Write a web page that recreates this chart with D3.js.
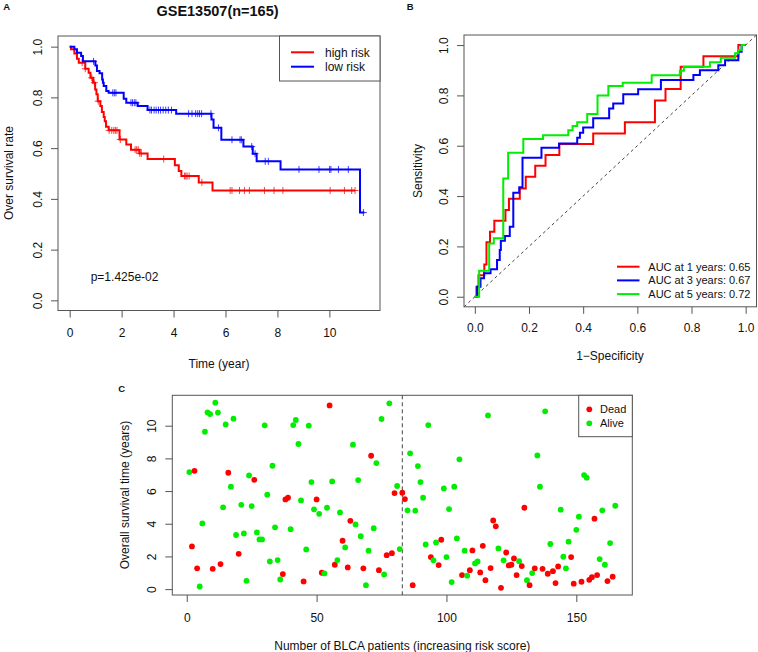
<!DOCTYPE html>
<html><head><meta charset="utf-8">
<script src="https://cdn.jsdelivr.net/npm/d3@7"></script>
<style>body{margin:0;background:#fff}svg{display:block}</style>
</head><body><svg id="c" width="758" height="652"></svg>
<script>
// ---------- Panel A data (Kaplan-Meier) ----------
const kmTitle = "GSE13507(n=165)";
const kmGroups = ["high risk", "low risk"];
const kmPText = "p=1.425e-02";
const kmXTicks = [0, 2, 4, 6, 8, 10];
const unitTicks = [0, 0.2, 0.4, 0.6, 0.8, 1.0];
const highRiskTime = [0.05,0.18,0.28,0.35,0.6,0.73,0.8,0.9,0.98,1.03,1.08,1.18,1.24,1.31,1.35,1.4,1.5,1.92,2.18,2.36,2.69,3.0,4.05,4.2,4.3,4.97,5.5];
const highRiskSurv = [0.99,0.973,0.952,0.937,0.913,0.897,0.877,0.858,0.831,0.812,0.785,0.766,0.742,0.723,0.706,0.684,0.67,0.634,0.614,0.594,0.579,0.557,0.533,0.51,0.49,0.465,0.433];
const highRiskCensor = [0.48,0.6,0.85,0.95,1.1,1.52,1.62,1.7,1.76,1.82,1.95,2.52,2.58,2.64,2.7,2.76,3.62,4.42,4.47,4.52,4.6,5.09,6.18,6.25,6.54,6.73,6.92,7.5,7.87,8.21,10.03,10.58,10.86,10.99];
const highRiskEnd = 10.99;
const lowRiskTime = [0.18,0.28,0.44,0.51,0.99,1.05,1.15,1.25,1.28,1.31,1.41,1.5,2.08,2.18,2.62,3.0,4.1,5.46,5.54,5.84,6.69,7.05,7.2,8.12,11.18];
const lowRiskSurv = [0.99,0.976,0.963,0.942,0.926,0.904,0.895,0.871,0.858,0.845,0.825,0.818,0.795,0.779,0.766,0.75,0.736,0.713,0.68,0.633,0.606,0.578,0.548,0.516,0.346];
const lowRiskCensor = [0.92,1.66,1.72,1.78,2.36,2.42,2.49,2.55,3.09,3.15,3.25,3.33,3.42,3.5,3.6,3.7,3.8,3.92,4.58,4.71,4.85,4.93,5.0,5.08,5.44,5.73,6.25,6.56,6.61,7.01,7.14,7.53,7.65,8.83,9.6,10.01,10.06,10.35,10.73,11.31];
const lowRiskEnd = 11.35;

// ---------- Panel B data (time-dependent ROC) ----------
const rocLabels = ["AUC at 1 years: 0.65", "AUC at 3 years: 0.67", "AUC at 5 years: 0.72"];
const roc1Fpr = [0,0.006,0.0135,0.035,0.043,0.056,0.072,0.113,0.126,0.166,0.188,0.223,0.261,0.312,0.437,0.554,0.665,0.704,0.76,0.844,0.973,1.0];
const roc1Tpr = [0,0.04,0.085,0.128,0.216,0.258,0.302,0.345,0.389,0.43,0.477,0.52,0.563,0.607,0.649,0.693,0.78,0.825,0.914,0.956,1.0,1.0];
const roc3Fpr = [0,0.0086,0.021,0.034,0.058,0.082,0.092,0.096,0.111,0.129,0.142,0.164,0.176,0.246,0.311,0.378,0.388,0.40,0.437,0.496,0.511,0.548,0.603,0.687,0.807,0.831,0.899,0.924,0.973,0.985,1.0];
const roc3Tpr = [0,0.04,0.073,0.093,0.109,0.146,0.186,0.222,0.241,0.278,0.413,0.435,0.552,0.592,0.609,0.632,0.652,0.672,0.709,0.748,0.768,0.805,0.824,0.861,0.881,0.90,0.92,0.94,0.973,1.0,1.0];
const roc5Fpr = [0,0.016,0.053,0.070,0.105,0.123,0.179,0.252,0.345,0.361,0.378,0.415,0.453,0.493,0.546,0.653,0.757,0.772,0.868,0.908,0.961,0.973,0.985,1.0];
const roc5Tpr = [0,0.103,0.212,0.232,0.47,0.572,0.627,0.642,0.662,0.678,0.693,0.726,0.80,0.837,0.85,0.88,0.898,0.914,0.932,0.95,0.967,0.98,1.0,1.0];

// ---------- Panel C data (risk-ordered survival status) ----------
const statusLabels = ["Dead", "Alive"];
const scatterXTicks = [0, 50, 100, 150];
const scatterYTicks = [0, 2, 4, 6, 8, 10];
const cutoffPatient = 83;
const patientDead = [
 0,1,1,1,0,0,0,0,0,1,0,0,1,0,0,1,0,0,0,1,
 0,0,0,0,0,1,0,0,0,0,0,0,0,0,0,0,1,1,1,0,
 0,0,0,0,1,0,0,0,0,1,0,1,0,0,1,0,1,0,0,1,
 0,1,1,0,0,0,0,1,0,0,1,0,0,1,0,0,1,0,1,1,
 0,0,1,1,0,0,1,0,0,0,0,0,0,1,0,0,1,1,0,0,
 0,0,0,0,0,1,0,0,1,1,0,0,1,1,1,0,1,1,1,0,
 1,0,1,1,1,1,1,0,1,1,0,1,0,1,0,0,1,0,1,0,
 1,1,1,0,0,0,0,1,1,0,0,1,0,0,1,1,1,1,0,0,
 0,1,0,1,0];
const patientTime = [
 7.16,2.61,7.24,1.27,0.16,4.02,9.63,10.82,10.71,1.24,11.41,10.8,1.53,5.0,10.08,7.12,6.27,10.43,3.31,2.16,
 5.16,3.41,0.51,6.96,5.08,6.69,3.47,3.04,3.04,10.02,5.78,1.69,7.55,3.78,1.78,0.59,0.92,5.49,5.59,3.67,
 10.04,10.35,8.88,5.43,0.47,2.43,10.0,6.55,4.88,5.49,4.61,1.0,0.96,4.98,11.24,6.59,1.49,1.78,4.69,2.96,
 2.55,1.33,4.18,8.84,3.96,6.67,3.24,1.27,0.24,2.35,8.16,3.73,7.71,1.16,10.41,0.9,2.08,11.37,2.2,5.88,
 6.31,2.45,5.9,5.51,4.82,8.31,0.24,4.8,7.53,6.55,5.59,2.73,10.04,1.96,1.76,2.86,1.47,3.02,6.16,1.96,
 4.9,0.43,6.27,3.1,7.94,0.86,2.35,0.82,1.16,2.37,1.57,1.69,1.02,2.65,0.55,10.63,1.29,4.2,3.84,2.49,
 0.08,1.76,2.24,1.45,1.49,1.88,0.86,1.71,1.41,4.98,0.55,0.24,0.98,1.27,8.18,6.27,1.24,10.88,0.94,2.76,
 1.1,0.37,1.39,4.86,1.98,1.27,2.9,1.96,0.33,3.63,4.43,0.45,6.98,6.82,0.57,0.73,4.31,0.86,1.84,4.82,
 1.49,0.49,2.82,0.76,5.1];

// ---------- drawing ----------
const FONT = '"Liberation Sans", Arial, Helvetica, sans-serif';
const AX = "#555";
const TXT = "#111";
const RED = "#ff0000", BLUE = "#0000ff", GREEN = "#00ee00";
const svg = d3.select("#c").attr("font-family", FONT);
svg.append("rect").attr("width", 758).attr("height", 652).attr("fill", "#fff");

function txt(x, y, s, size, opts = {}) {
  const t = svg.append("text").attr("x", x).attr("y", y).attr("font-size", size)
    .attr("fill", TXT).attr("font-family", FONT).attr("dy", opts.dy || "0.35em")
    .attr("text-anchor", opts.anchor || "start").text(s);
  if (opts.bold) t.attr("font-weight", "bold");
  if (opts.rotate) t.attr("transform", `rotate(-90,${x},${y})`);
  return t;
}
function frame(x0, y0, x1, y1) {
  svg.append("rect").attr("x", x0).attr("y", y0).attr("width", x1 - x0).attr("height", y1 - y0)
    .attr("fill", "none").attr("stroke", AX).attr("stroke-width", 1);
}
function xAxis(scale, y, ticks, fmt, pad) {
  const g = svg.append("g").attr("transform", `translate(0,${y})`)
    .call(d3.axisBottom(scale).tickValues(ticks).tickFormat(fmt).tickSize(7).tickPadding(pad));
  g.select(".domain").remove();
  g.selectAll("line").attr("stroke", AX);
  g.selectAll("text").attr("font-size", 12).attr("fill", TXT).attr("font-family", FONT);
}
function yAxis(scale, x, ticks, fmt, off) {
  const g = svg.append("g").attr("transform", `translate(${x},0)`)
    .call(d3.axisLeft(scale).tickValues(ticks).tickFormat(fmt).tickSize(7));
  g.select(".domain").remove();
  g.selectAll("line").attr("stroke", AX);
  g.selectAll("text").attr("x", 0).attr("dy", "0.35em").attr("text-anchor", "middle")
    .attr("transform", `translate(${-off},0) rotate(-90)`)
    .attr("font-size", 12).attr("fill", TXT).attr("font-family", FONT);
}
const f1 = d3.format(".1f");

// ===== Panel A =====
const xA = d3.scaleLinear().domain([-0.45, 11.95]).range([58, 380]);
const yA = d3.scaleLinear().domain([-0.04, 1.04]).range([310.5, 36.5]);
function kmPoints(times, surv, end) {
  const pts = [[0, 1]];
  times.forEach((t, i) => pts.push([t, surv[i]]));
  pts.push([end, surv[surv.length - 1]]);
  return pts;
}
function survAt(times, surv, t) {
  let s = 1;
  times.forEach((tt, i) => { if (tt <= t) s = surv[i]; });
  return s;
}
const kmLine = d3.line().x(d => xA(d[0])).y(d => yA(d[1])).curve(d3.curveStepAfter);
[[highRiskTime, highRiskSurv, highRiskCensor, highRiskEnd, RED],
 [lowRiskTime, lowRiskSurv, lowRiskCensor, lowRiskEnd, BLUE]].forEach(([tm, sv, cs, end, col]) => {
  svg.append("path").attr("d", kmLine(kmPoints(tm, sv, end))).attr("fill", "none")
    .attr("stroke", col).attr("stroke-width", 2);
  svg.append("g").selectAll("path").data(cs).join("path")
    .attr("d", c => { const x = xA(c), y = yA(survAt(tm, sv, c)); return `M${x - 3.5},${y}h7M${x},${y - 3.5}v7`; })
    .attr("stroke", col).attr("stroke-width", 1).attr("stroke-opacity", 0.75).attr("fill", "none");
});
frame(58, 36, 380, 310.5);
xAxis(xA, 310.5, kmXTicks, d3.format("d"), 11);
yAxis(yA, 58, unitTicks, f1, 20);
// legend A
svg.append("rect").attr("x", 279.5).attr("y", 36).attr("width", 100.5).attr("height", 45)
  .attr("fill", "#fff").attr("stroke", AX);
kmGroups.forEach((g, i) => {
  const y = 52.3 + i * 14.4;
  svg.append("line").attr("x1", 291).attr("x2", 314).attr("y1", y).attr("y2", y)
    .attr("stroke", i ? BLUE : RED).attr("stroke-width", 2);
  txt(325, y, g, 12);
});
txt(90.7, 276.7, kmPText, 12);
txt(217.5, 10.8, kmTitle, 14.5, { bold: true, anchor: "middle" });
txt(219, 364, "Time (year)", 12, { anchor: "middle" });
txt(9, 173, "Over survival rate", 12, { anchor: "middle", rotate: true });
txt(3.3, 7, "A", 9.5, { bold: true });

// ===== Panel B =====
const xB = d3.scaleLinear().domain([-0.04, 1.04]).range([464, 756.5]);
const yB = d3.scaleLinear().domain([-0.04, 1.04]).range([306.8, 35]);
svg.append("line").attr("x1", xB(-0.04)).attr("y1", yB(-0.04)).attr("x2", xB(1.04)).attr("y2", yB(1.04))
  .attr("stroke", "#444").attr("stroke-width", 1).attr("stroke-dasharray", "3,3");
const rocLine = d3.line().x(d => xB(d[0])).y(d => yB(d[1])).curve(d3.curveStepAfter);
const rocSets = [[roc1Fpr, roc1Tpr, RED], [roc3Fpr, roc3Tpr, BLUE], [roc5Fpr, roc5Tpr, GREEN]];
rocSets.forEach(([fx, ty, col]) => {
  svg.append("path").attr("d", rocLine(fx.map((f, i) => [f, ty[i]]))).attr("fill", "none")
    .attr("stroke", col).attr("stroke-width", 2);
});
frame(464, 35, 756.5, 306.8);
xAxis(xB, 306.8, unitTicks, f1, 10);
yAxis(yB, 464, unitTicks, f1, 20.5);
rocLabels.forEach((l, i) => {
  const y = 266.7 + i * 13.7;
  svg.append("line").attr("x1", 617).attr("x2", 639.5).attr("y1", y).attr("y2", y)
    .attr("stroke", rocSets[i][2]).attr("stroke-width", 2);
  txt(648.3, y, l, 11);
});
txt(610, 355.7, "1\u2212Specificity", 12, { anchor: "middle" });
txt(418, 171, "Sensitivity", 12, { anchor: "middle", rotate: true });
txt(406.7, 7, "B", 9.5, { bold: true });

// ===== Panel C =====
const xC = d3.scaleLinear().domain([-5.56, 171.56]).range([172.3, 632.3]);
const yC = d3.scaleLinear().domain([-0.36, 11.86]).range([595, 395.3]);
svg.append("line").attr("x1", xC(cutoffPatient)).attr("x2", xC(cutoffPatient)).attr("y1", 395.3).attr("y2", 595)
  .attr("stroke", "#444").attr("stroke-width", 1).attr("stroke-dasharray", "4,3");
svg.append("g").selectAll("circle").data(patientTime).join("circle")
  .attr("cx", (d, i) => xC(i + 1)).attr("cy", d => yC(d)).attr("r", 2.9)
  .attr("fill", (d, i) => patientDead[i] ? RED : GREEN);
frame(172.3, 395.3, 632.3, 595);
xAxis(xC, 595, scatterXTicks, d3.format("d"), 11.5);
yAxis(yC, 172.3, scatterYTicks, d3.format("d"), 20.5);
svg.append("rect").attr("x", 578.7).attr("y", 395.3).attr("width", 53.6).attr("height", 41.4)
  .attr("fill", "#fff").attr("stroke", AX);
statusLabels.forEach((l, i) => {
  const y = 409.3 + i * 14;
  svg.append("circle").attr("cx", 589.3).attr("cy", y).attr("r", 2.9).attr("fill", i ? GREEN : RED);
  txt(600, y, l, 11);
});
txt(402.3, 646, "Number of BLCA patients (increasing risk score)", 12, { anchor: "middle" });
txt(125, 495, "Overall survival time (years)", 12, { anchor: "middle", rotate: true });
txt(118.3, 389, "C", 9.5, { bold: true });
</script></body></html>
